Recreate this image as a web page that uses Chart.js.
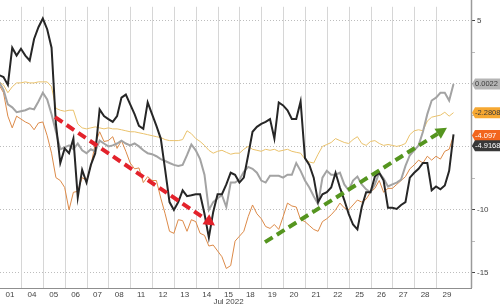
<!DOCTYPE html>
<html>
<head>
<meta charset="utf-8">
<script src="https://cdn.jsdelivr.net/npm/chart.js@4/dist/chart.umd.min.js"></script>
<style>
  body { margin: 0; background: #fff; }
  #wrap { width: 500px; height: 306px; }
</style>
</head>
<body>
<div id="wrap"><canvas id="chart" width="500" height="306"></canvas></div>
<script>
  // trading days of July 2022 (one label per session)
  var days = ['01','04','05','06','07','08','11','12','13','14','15','18','19','20','21','22','25','26','27','28','29'];
  var yTicks = [-15, -12.5, -10, -7.5, -5, -2.5, 0, 2.5, 5];

  // series sampled every 1/5 of a session
  var black = [0.70, 0.54, -0.08, 2.87, 2.25, 2.79, 2.25, 1.86, 3.57, 4.5,
    5.19, 4.34, 2.87, -3.2, -6.28, -5.12, -5.5, -4.34, -9.0, -6.82,
    -7.83, -6.43, -5.5, -2.02, -2.56, -2.79, -3.02, -2.56, -1.09, -0.85,
    -1.63, -2.4, -3.33, -3.57, -1.47, -2.4, -3.33, -4.34, -6.82, -9.38,
    -10.0, -9.38, -8.45, -8.91, -8.84, -8.76, -8.76, -10.31, -12.2, -10.16,
    -8.76, -8.76, -7.98, -7.05, -7.21, -7.83, -7.44, -5.66, -3.8, -3.41,
    -3.18, -3.02, -2.79, -4.34, -1.47, -1.71, -2.09, -2.79, -2.79, -1.4,
    -5.89, -6.43, -7.44, -9.38, -8.76, -8.6, -8.22, -7.05, -8.22, -9.22,
    -10.31, -11.16, -11.55, -9.77, -8.6, -8.6, -7.36, -7.05, -7.67, -9.84,
    -9.84, -9.92, -9.61, -9.38, -7.44, -7.05, -6.74, -6.28, -6.28, -8.45,
    -8.14, -8.37, -8.06, -6.9, -4.0];

  var gray = [0.16, -0.47, -1.63, -1.86, -2.25, -2.17, -2.09, -1.94, -2.02, -1.4,
    -0.7, -1.24, -2.4, -3.8, -5.19, -5.04, -4.88, -5.19, -4.73, -5.27,
    -5.5, -5.19, -5.35, -4.5, -4.73, -4.96, -4.88, -4.73, -4.5, -4.73,
    -4.88, -4.73, -4.96, -5.27, -5.5, -5.58, -5.74, -5.97, -6.12, -6.28,
    -6.43, -6.51, -6.43, -5.66, -4.81, -5.27, -5.97, -7.21, -10.0, -9.38,
    -9.07, -8.84, -9.77, -7.83, -7.83, -7.6, -6.98, -6.59, -6.74, -7.05,
    -7.67, -7.83, -7.29, -7.29, -7.29, -7.44, -7.21, -7.21, -6.28, -6.9,
    -7.67, -8.22, -8.91, -9.53, -7.44, -6.9, -7.21, -7.21, -7.05, -7.98,
    -8.45, -7.67, -7.36, -7.98, -8.37, -8.6, -7.98, -7.05, -7.52, -8.14,
    -7.98, -7.83, -7.6, -6.51, -5.66, -5.27, -4.88, -3.8, -2.4, -1.32,
    -1.09, -0.7, -0.7, -1.32, 0.0];

  var gold = [0.16, -0.08, -0.7, -0.23, 0.08, 0.08, 0.16, 0.08, 0.08, 0.16,
    0.16, 0.16, -0.23, -1.94, -2.09, -2.17, -2.09, -2.09, -3.18, -3.49,
    -3.57, -3.49, -3.41, -3.49, -3.57, -3.49, -3.57, -3.57, -3.64, -3.72,
    -3.8, -3.8, -3.88, -3.95, -4.03, -4.11, -4.19, -4.26, -4.42, -4.5,
    -4.5, -4.5, -4.42, -3.72, -3.95, -4.34, -4.57, -4.88, -5.27, -5.5,
    -5.35, -5.27, -5.43, -5.58, -5.5, -5.5, -5.19, -4.96, -5.19, -5.27,
    -5.35, -5.19, -5.27, -5.19, -5.35, -5.27, -5.19, -5.35, -5.43, -5.5,
    -5.97, -6.2, -6.28, -5.58, -4.96, -4.81, -4.65, -4.34, -4.5, -4.65,
    -4.73, -4.42, -4.19, -4.73, -4.88, -4.57, -4.5, -4.73, -4.88, -4.81,
    -4.88, -4.96, -4.88, -4.73, -4.03, -3.72, -3.64, -3.72, -2.95, -2.64,
    -2.56, -2.48, -2.25, -2.56, -2.28];

  var orange = [-0.08, -0.7, -2.56, -3.49, -2.56, -2.79, -3.02, -3.18, -3.64, -3.1,
    -3.02, -4.11, -5.5, -7.44, -7.67, -8.22, -10.0, -8.6, -8.53, -7.44,
    -7.67, -6.51, -4.73, -3.8, -4.57, -4.5, -4.19, -5.12, -4.5, -5.35,
    -6.28, -6.74, -6.67, -7.83, -7.36, -7.67, -7.67, -9.07, -10.31, -11.7,
    -11.86, -10.78, -10.85, -11.7, -10.78, -10.93, -11.86, -12.02, -12.87, -12.79,
    -13.26, -13.72, -14.65, -14.42, -12.48, -12.09, -11.7, -10.54, -9.61, -10.31,
    -10.7, -11.32, -11.47, -11.16, -11.55, -10.54, -9.46, -9.69, -9.77, -10.78,
    -10.93, -11.24, -11.55, -11.7, -10.93, -10.7, -10.39, -10.0, -9.46, -9.84,
    -10.0, -9.61, -9.22, -9.38, -9.15, -8.6, -8.29, -7.67, -8.6, -8.29,
    -8.29, -7.98, -7.67, -7.36, -6.74, -6.43, -6.05, -6.28, -5.74, -6.05,
    -5.74, -5.97, -5.35, -5.19, -4.1];

  // last-value tags on the right axis
  var lastText = ['0.0022', '-2.2808', '-4.097', '-4.9168'];
  var lastValue = [0.0022, -2.2808, -4.097, -4.9168];
  var lastBg = ['#b5b5b5', '#f6a832', '#f2661e', '#383838'];
  var lastFg = ['#3a3a3a', '#3a3a3a', '#ffffff', '#ffffff'];

  // trend arrows, [day, value] start and tip
  var redArrow = [[2.56, -2.64], [9.88, -11.24]];
  var greenArrow = [[12.17, -12.56], [20.5, -3.49]];

  var FONT = '"Liberation Sans", Arial, sans-serif';

  function toPoints(arr) {
    return arr.map(function (v, k) { return { x: k / 5, y: v }; });
  }

  // x ticks: session boundaries (grid only) and session middles (labels only)
  function buildXTicks() {
    var t = [];
    for (var i = 0; i < days.length; i++) {
      t.push({ value: i + 0.5 });
      if (i < days.length - 1) t.push({ value: i + 1 });
    }
    return t;
  }

  function drawArrow(ctx, x1, y1, x2, y2, color) {
    var ang = Math.atan2(y2 - y1, x2 - x1);
    var head = 11, half = 6;
    var bx = x2 - head * Math.cos(ang), by = y2 - head * Math.sin(ang);
    ctx.save();
    ctx.strokeStyle = color;
    ctx.lineWidth = 4;
    ctx.setLineDash([9, 5]);
    ctx.beginPath();
    ctx.moveTo(x1, y1);
    ctx.lineTo(bx, by);
    ctx.stroke();
    ctx.setLineDash([]);
    ctx.fillStyle = color;
    ctx.beginPath();
    ctx.moveTo(x2, y2);
    ctx.lineTo(bx + half * Math.sin(ang), by - half * Math.cos(ang));
    ctx.lineTo(bx - half * Math.sin(ang), by + half * Math.cos(ang));
    ctx.closePath();
    ctx.fill();
    ctx.restore();
  }

  var extras = {
    id: 'extras',
    beforeDatasetsDraw: function (chart) {
      // session separators at the x scale's whole-number ticks
      var ctx = chart.ctx, area = chart.chartArea, sx = chart.scales.x;
      ctx.save();
      ctx.strokeStyle = '#d6d6d6';
      ctx.lineWidth = 1;
      sx.ticks.forEach(function (t) {
        if (!Number.isInteger(t.value)) return;
        var x = Math.round(sx.getPixelForValue(t.value)) + 0.5;
        ctx.beginPath();
        ctx.moveTo(x, area.top);
        ctx.lineTo(x, area.bottom);
        ctx.stroke();
      });
      ctx.restore();
    },
    afterDatasetsDraw: function (chart) {
      var ctx = chart.ctx, sx = chart.scales.x, sy = chart.scales.y;
      drawArrow(ctx, sx.getPixelForValue(redArrow[0][0]), sy.getPixelForValue(redArrow[0][1]),
        sx.getPixelForValue(redArrow[1][0]), sy.getPixelForValue(redArrow[1][1]), '#e3222b');
      drawArrow(ctx, sx.getPixelForValue(greenArrow[0][0]), sy.getPixelForValue(greenArrow[0][1]),
        sx.getPixelForValue(greenArrow[1][0]), sy.getPixelForValue(greenArrow[1][1]), '#55951f');
    },
    afterDraw: function (chart) {
      var ctx = chart.ctx, area = chart.chartArea, sx = chart.scales.x, sy = chart.scales.y;
      ctx.save();
      // right axis line
      ctx.strokeStyle = '#9a9a9a';
      ctx.lineWidth = 1.5;
      ctx.beginPath();
      ctx.moveTo(area.right + 0.5, 0);
      ctx.lineTo(area.right + 0.5, area.bottom);
      ctx.stroke();

      // month caption
      ctx.fillStyle = '#444';
      ctx.font = '8px ' + FONT;
      ctx.textAlign = 'center';
      ctx.textBaseline = 'middle';
      ctx.fillText('Jul 2022', sx.getPixelForValue(10.5), 301.5);

      // last value tags
      ctx.textAlign = 'left';
      ctx.font = '7.5px ' + FONT;
      for (var i = 0; i < lastText.length; i++) {
        var y = sy.getPixelForValue(lastValue[i]);
        var x0 = area.right + 1;
        ctx.fillStyle = lastBg[i];
        ctx.beginPath();
        ctx.moveTo(x0, y);
        ctx.lineTo(x0 + 3, y - 5.5);
        ctx.lineTo(500, y - 5.5);
        ctx.lineTo(500, y + 5.5);
        ctx.lineTo(x0 + 3, y + 5.5);
        ctx.closePath();
        ctx.fill();
        ctx.fillStyle = lastFg[i];
        ctx.fillText(lastText[i], x0 + 3, y + 0.5);
      }
      ctx.restore();
    }
  };

  var ctx = document.getElementById('chart').getContext('2d');
  new Chart(ctx, {
    type: 'line',
    data: {
      datasets: [
        { data: toPoints(black), borderColor: '#262626', borderWidth: 2 },
        { data: toPoints(gray), borderColor: '#a3a3a3', borderWidth: 2 },
        { data: toPoints(orange), borderColor: '#dc8a48', borderWidth: 1 },
        { data: toPoints(gold), borderColor: '#eac26c', borderWidth: 1 }
      ]
    },
    options: {
      responsive: false,
      animation: false,
      devicePixelRatio: 1,
      layout: { padding: 0 },
      plugins: { legend: { display: false }, tooltip: { enabled: false } },
      elements: { point: { radius: 0 }, line: { tension: 0 } },
      scales: {
        x: {
          type: 'linear',
          bounds: 'data',
          min: 0.04,
          max: 21.6,
          afterBuildTicks: function (s) { s.ticks = buildXTicks(); },
          afterFit: function (s) { s.height = 18; },
          grid: { drawOnChartArea: false, drawTicks: false },
          border: { display: true, color: '#8f8f8f', width: 1 },
          ticks: {
            autoSkip: false,
            maxRotation: 0,
            padding: 2,
            color: '#444',
            font: { size: 8, family: FONT },
            callback: function (v) {
              return Number.isInteger(v) ? '' : days[Math.floor(v)];
            }
          }
        },
        y: {
          position: 'right',
          bounds: 'data',
          min: -16.2,
          max: 6.12,
          afterBuildTicks: function (s) {
            s.ticks = yTicks.map(function (v) { return { value: v }; });
          },
          afterFit: function (s) { s.width = 29; },
          grid: {
            drawTicks: true,
            tickLength: 4,
            color: function (c) { return (c.tick && c.tick.value % 5 === 0) ? '#bdbdbd' : 'transparent'; },
            tickColor: function (c) { return (c.tick && c.tick.value % 5 === 0) ? '#444' : '#bbb'; }
          },
          border: { display: false, dash: [1, 2] },
          ticks: {
            padding: 2,
            color: '#444',
            font: { size: 8, family: FONT },
            callback: function (v) { return v % 5 === 0 ? String(v) : ''; }
          }
        }
      }
    },
    plugins: [extras]
  });
</script>
</body>
</html>
